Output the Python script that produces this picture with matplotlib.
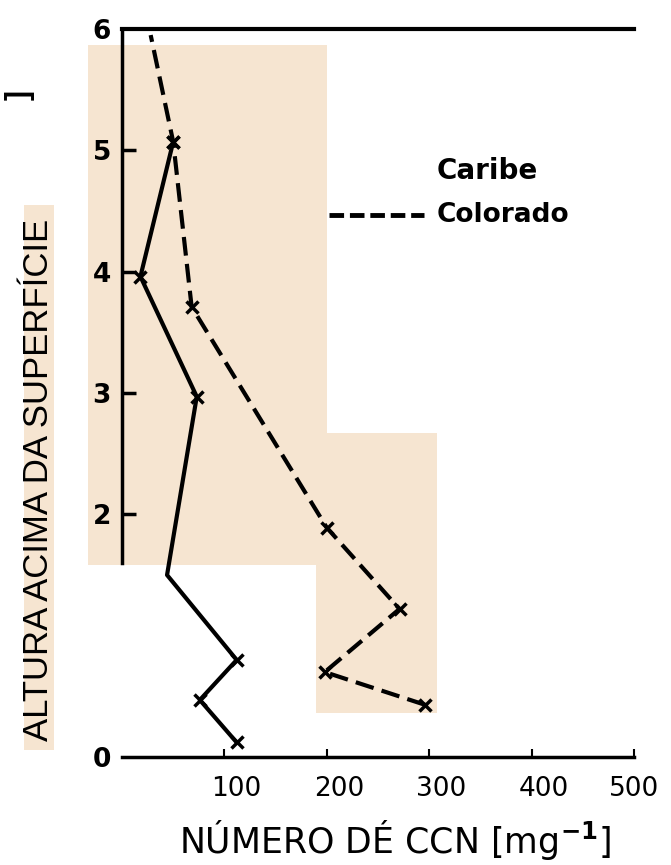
import matplotlib
matplotlib.use("Agg")
import matplotlib.pyplot as plt
import matplotlib.transforms as mtransforms
from matplotlib.patches import Rectangle

# Caribe (solid line), from the surface upwards
caribe_ccn = [112, 76, 112, 44, 73, 18, 50]
caribe_alt = [0.12, 0.47, 0.80, 1.50, 2.97, 3.96, 5.07]
caribe_marked = [0, 1, 2, 4, 5, 6]

# Colorado (dashed line)
colorado_ccn = [296, 198, 271, 200, 68, 50, 28]
colorado_alt = [0.43, 0.70, 1.22, 1.89, 3.71, 5.07, 5.95]
colorado_marked = [0, 1, 2, 3, 4, 5]

x_ticks = [100, 200, 300, 400, 500]
y_ticks = [0, 1, 2, 3, 4, 5, 6]
y_labels = ["0", "", "2", "3", "4", "5", "6"]

beige = "#f6e5d1"

fig = plt.figure(figsize=(6.71, 8.65), dpi=100)
W, H = 671, 865

def px_rect(x0, y0, x1, y1):
    return Rectangle((x0 / W, 1 - y1 / H), (x1 - x0) / W, (y1 - y0) / H,
                     transform=fig.transFigure, facecolor=beige,
                     edgecolor="none", zorder=-1)

# scanned paper patches
fig.add_artist(px_rect(88, 45, 327, 565))
fig.add_artist(px_rect(316, 433, 437, 713))
fig.add_artist(px_rect(24, 205, 54, 750))

ax = fig.add_axes([122 / W, 1 - 757 / H, 512 / W, 728 / H])
ax.set_facecolor("none")
ax.set_xlim(0, 500)
ax.set_ylim(0, 6)

ax.plot(caribe_ccn, caribe_alt, color="black", lw=3, solid_capstyle="round")
ax.plot([caribe_ccn[i] for i in caribe_marked], [caribe_alt[i] for i in caribe_marked],
        ls="none", marker="x", ms=9, mew=2.5, color="black")

ax.plot(colorado_ccn, colorado_alt, color="black", lw=3, dashes=(4.5, 2))
ax.plot([colorado_ccn[i] for i in colorado_marked], [colorado_alt[i] for i in colorado_marked],
        ls="none", marker="x", ms=9, mew=2.5, color="black")

# axes look
ax.spines["right"].set_visible(False)
ax.spines["top"].set_linewidth(3)
ax.spines["bottom"].set_linewidth(2.5)
ax.spines["left"].set_linewidth(2.5)
ax.spines["left"].set_bounds(1.6, 6)

ax.set_xticks(x_ticks)
ax.set_xticklabels([str(v) for v in x_ticks], fontsize=19)
ax.set_yticks(y_ticks)
ax.set_yticklabels(y_labels, fontsize=19, fontweight="bold")
ax.tick_params(axis="x", direction="in", length=6, width=1.5, pad=14)
ax.tick_params(axis="y", direction="in", length=10, width=2.5, pad=8)
for i in (0, 1, 6):
    ax.yaxis.get_major_ticks()[i].tick1line.set_visible(False)

offset = mtransforms.ScaledTranslation(12 / 100, 0, fig.dpi_scale_trans)
for lab in ax.get_xticklabels()[:-1]:
    lab.set_transform(lab.get_transform() + offset)

ax.set_xlabel(r"NÚMERO DÉ CCN [mg$^{\mathbf{-1}}$]", fontsize=25)
ax.xaxis.set_label_coords(0.533, -0.114)
ax.xaxis.label.set_va("center")

# legend written by hand like the original
ax.text(0.615, 0.805, "Caribe", transform=ax.transAxes, fontsize=20,
        fontweight="bold", va="center", ha="left")
ax.text(0.615, 0.745, "Colorado", transform=ax.transAxes, fontsize=19,
        fontweight="bold", va="center", ha="left")
ax.plot([0.405, 0.59], [0.745, 0.745], transform=ax.transAxes, color="black",
        lw=3.5, dashes=(3, 1.2), clip_on=False)

fig.text(39 / W, 1 - 480 / H, "ALTURA ACIMA DA SUPERFÍCIE", rotation=90,
         fontsize=25, family=["Liberation Sans", "DejaVu Sans"],
         ha="center", va="center")
fig.text(20 / W, 1 - 95 / H, "]", rotation=90, fontsize=22,
         family=["Liberation Sans", "DejaVu Sans"], ha="center", va="center",
         fontweight="bold")

fig.savefig("out.png", dpi=100)
